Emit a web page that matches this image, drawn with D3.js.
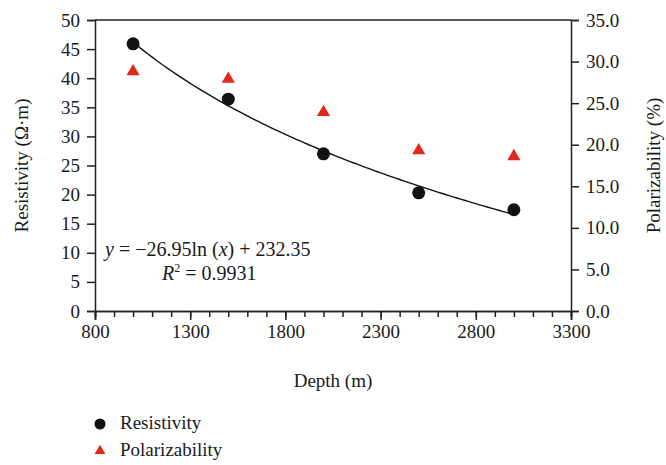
<!DOCTYPE html>
<html>
<head>
<meta charset="utf-8">
<script src="https://cdn.jsdelivr.net/npm/d3@7"></script>
<style>
  body { margin: 0; background: #fff; }
  text { font-family: "Liberation Serif", "DejaVu Serif", serif; fill: #1a1a1a; }
</style>
</head>
<body>
<div id="my_dataviz"></div>
<script>
// data
var depth = [1000, 1500, 2000, 2500, 3000];
var resistivity = [45.9, 36.4, 27.0, 20.3, 17.4];
var polarizability = [28.8, 27.9, 23.9, 19.3, 18.6];
var xTicks = [800, 1300, 1800, 2300, 2800, 3300];
var yLeftTicks = [0, 5, 10, 15, 20, 25, 30, 35, 40, 45, 50];
var yRightTicks = [0, 5, 10, 15, 20, 25, 30, 35];
// trendline coefficients printed on the chart: y = a ln(x) + b
var fitA = -26.95, fitB = 232.35;

// set the dimensions and margins of the graph
var margin = {top: 20, right: 95, bottom: 154, left: 95},
    width = 666 - margin.left - margin.right,
    height = 465 - margin.top - margin.bottom;

var svg = d3.select("#my_dataviz")
  .append("svg")
    .attr("width", width + margin.left + margin.right)
    .attr("height", height + margin.top + margin.bottom)
  .append("g")
    .attr("transform", "translate(" + margin.left + "," + margin.top + ")");

var fs = "19px";

// scales
var x = d3.scaleLinear().domain([800, 3300]).range([0, width]);
var yL = d3.scaleLinear().domain([0, 50]).range([height, 0]);
var yR = d3.scaleLinear().domain([0, 35]).range([height, 0]);

// top frame line
svg.append("line")
  .attr("x1", 0).attr("x2", width)
  .attr("y1", 0).attr("y2", 0)
  .attr("stroke", "#222").attr("stroke-width", 1.5);

// X axis: minor ticks then major ticks with labels
var xMinor = svg.append("g")
  .attr("transform", "translate(0," + height + ")")
  .call(d3.axisBottom(x).tickValues(d3.range(800, 3301, 100)).tickSize(6).tickFormat(""));
var xAxis = svg.append("g")
  .attr("transform", "translate(0," + height + ")")
  .call(d3.axisBottom(x).tickValues(xTicks).tickSize(9).tickPadding(5).tickFormat(d3.format("d")));

// left Y axis
var yAxisL = svg.append("g")
  .call(d3.axisLeft(yL).tickValues(yLeftTicks).tickSize(8).tickPadding(7));

// right Y axis
var yAxisR = svg.append("g")
  .attr("transform", "translate(" + width + ",0)")
  .call(d3.axisRight(yR).tickValues(yRightTicks).tickSize(8).tickPadding(7).tickFormat(d3.format(".1f")));

[xMinor, xAxis, yAxisL, yAxisR].forEach(function(g) {
  g.select(".domain").attr("stroke", "#222").attr("stroke-width", 1.5);
  g.selectAll(".tick line").attr("stroke", "#222").attr("stroke-width", 1.5);
  g.selectAll("text").style("font-size", fs).style("font-family", "Liberation Serif").attr("fill", "#1a1a1a");
});

// axis titles
svg.append("text")
  .attr("x", width / 2).attr("y", height + 76)
  .attr("text-anchor", "middle")
  .style("font-size", fs)
  .text("Depth (m)");

svg.append("text")
  .attr("transform", "translate(" + (-67) + "," + (height / 2) + ") rotate(-90)")
  .attr("text-anchor", "middle")
  .style("font-size", fs)
  .text("Resistivity (Ω·m)");

svg.append("text")
  .attr("transform", "translate(" + (width + 89) + "," + (height / 2) + ") rotate(-90)")
  .attr("text-anchor", "middle")
  .style("font-size", fs)
  .text("Polarizability (%)");

// logarithmic trendline from the printed equation
var fitX = d3.range(depth[0], depth[depth.length - 1] + 1, 20);
svg.append("path")
  .datum(fitX)
  .attr("fill", "none")
  .attr("stroke", "#111")
  .attr("stroke-width", 1.4)
  .attr("d", d3.line()
    .x(function(d) { return x(d); })
    .y(function(d) { return yL(fitA * Math.log(d) + fitB); })
  );

// polarizability triangles
var tri = d3.symbol().type(d3.symbolTriangle).size(75);
svg.selectAll(".pol")
  .data(depth)
  .enter()
  .append("path")
    .attr("class", "pol")
    .attr("d", tri)
    .attr("fill", "#e0281c")
    .attr("transform", function(d, i) { return "translate(" + x(d) + "," + yR(polarizability[i]) + ")"; });

// resistivity dots
svg.selectAll(".res")
  .data(depth)
  .enter()
  .append("circle")
    .attr("class", "res")
    .attr("cx", function(d) { return x(d); })
    .attr("cy", function(d, i) { return yL(resistivity[i]); })
    .attr("r", 6.5)
    .attr("fill", "#111");

// equation text
var eq = svg.append("text")
  .attr("x", 10).attr("y", 236)
  .style("font-size", "20px");
eq.append("tspan").style("font-style", "italic").text("y");
eq.append("tspan").text(" = \u221226.95ln (");
eq.append("tspan").style("font-style", "italic").text("x");
eq.append("tspan").text(") + 232.35");

var r2 = svg.append("text")
  .attr("x", 67).attr("y", 260)
  .style("font-size", "20px");
r2.append("tspan").style("font-style", "italic").text("R");
r2.append("tspan").attr("dy", -8).style("font-size", "12px").text("2");
r2.append("tspan").attr("dy", 8).text(" = 0.9931");

// legend
var legend = svg.append("g").attr("transform", "translate(" + (100 - margin.left) + "," + (424 - margin.top) + ")");
legend.append("circle").attr("cx", 0).attr("cy", 0).attr("r", 5.5).attr("fill", "#111");
legend.append("text").attr("x", 20).attr("y", 5).style("font-size", fs).text("Resistivity");
legend.append("path")
  .attr("d", d3.symbol().type(d3.symbolTriangle).size(50))
  .attr("fill", "#e0281c")
  .attr("transform", "translate(0,27)");
legend.append("text").attr("x", 20).attr("y", 32).style("font-size", fs).text("Polarizability");
</script>
</body>
</html>
